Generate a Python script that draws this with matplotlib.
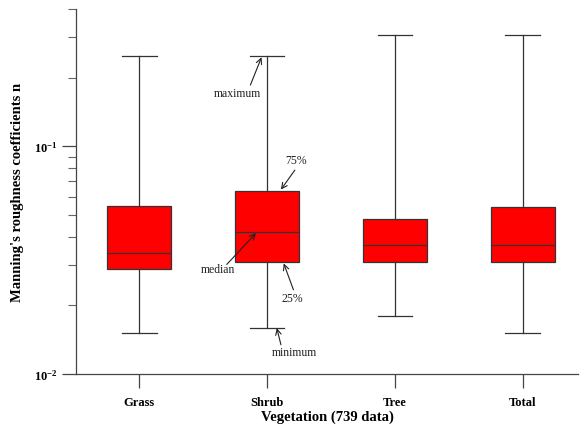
import matplotlib
matplotlib.use("Agg")
import matplotlib.pyplot as plt
from matplotlib.ticker import NullFormatter, LogLocator
from matplotlib.transforms import offset_copy

plt.rcParams['font.family'] = ['Liberation Serif', 'DejaVu Serif']
plt.rcParams['mathtext.fontset'] = 'stix'

# box statistics (Manning's n)
categories = ["Grass", "Shrub", "Tree", "Total"]
v_min = [0.0151, 0.0159, 0.0179, 0.0151]
v_q1 = [0.0288, 0.0310, 0.0310, 0.0310]
v_med = [0.0339, 0.0418, 0.0368, 0.0368]
v_q3 = [0.0546, 0.0636, 0.0478, 0.0543]
v_max = [0.249, 0.249, 0.308, 0.308]

edge = "#333333"

fig = plt.figure(figsize=(5.81, 4.27), dpi=100)
ax = fig.add_axes([76 / 581, 1 - 375 / 427, (578 - 76) / 581, (375 - 10) / 427])

stats = []
for i, name in enumerate(categories):
    stats.append(dict(label=name, whislo=v_min[i], q1=v_q1[i], med=v_med[i],
                      q3=v_q3[i], whishi=v_max[i], fliers=[]))

positions = list(range(1, len(categories) + 1))
ax.bxp(stats, positions=positions, widths=0.5, capwidths=0.27, patch_artist=True,
       showfliers=False,
       boxprops=dict(facecolor="#ff0000", edgecolor=edge, linewidth=0.9),
       medianprops=dict(color=edge, linewidth=0.9),
       whiskerprops=dict(color=edge, linewidth=0.9),
       capprops=dict(color=edge, linewidth=0.9))

ax.set_yscale("log")
ax.set_ylim(0.01, 0.4)
ax.set_xlim(0.505, 4.433)
ax.yaxis.set_major_locator(LogLocator(base=10))
ax.yaxis.set_minor_locator(LogLocator(base=10, subs=range(2, 10)))
ax.yaxis.set_minor_formatter(NullFormatter())

ax.spines["top"].set_visible(False)
ax.spines["right"].set_visible(False)
for s in ("left", "bottom"):
    ax.spines[s].set_color("#444444")
    ax.spines[s].set_linewidth(0.9)

ax.tick_params(axis="both", which="major", direction="out", length=10, width=0.9,
               color="#444444")
ax.tick_params(axis="y", which="minor", direction="out", length=6, width=0.8,
               color="#666666")
ax.set_xticks(positions)
ax.set_xticklabels(categories, fontsize=9, fontweight="bold")
ax.tick_params(axis="x", pad=6)
for lab in ax.get_yticklabels():
    lab.set_fontsize(9)
    lab.set_fontweight("bold")

ax.set_xlabel("Vegetation (739 data)", fontsize=10.5, fontweight="bold", labelpad=1)
ax.set_ylabel("Manning's roughness coefficients n", fontsize=10.5, fontweight="bold",
              labelpad=7)

# explanatory arrows on the Shrub box (offsets in points from the statistic)
sx = positions[1]
notes = [
    ("maximum", v_max[1], (-4, -1), (-12, -21), (-21, -27)),
    ("75%", v_q3[1], (10, 1), (20, 15), (21, 22)),
    ("median", v_med[1], (-8, -0.5), (-29, -23), (-35, -26)),
    ("25%", v_q1[1], (12, -1), (19, -20), (18, -26)),
    ("minimum", v_min[1], (7, 0), (10, -12), (20, -17.5)),
]
for text, val, head, tail, txt in notes:
    th = offset_copy(ax.transData, fig=fig, x=head[0], y=head[1], units="points")
    tt = offset_copy(ax.transData, fig=fig, x=tail[0], y=tail[1], units="points")
    tx = offset_copy(ax.transData, fig=fig, x=txt[0], y=txt[1], units="points")
    ax.annotate("", xy=(sx, val), xycoords=th, xytext=(sx, val), textcoords=tt,
                arrowprops=dict(arrowstyle="->", color="#222222", lw=0.8,
                                shrinkA=0, shrinkB=0))
    ax.text(sx, val, text, transform=tx, ha="center", va="center", fontsize=8.5,
            color="#222222")

fig.savefig("out.png", dpi=100)
